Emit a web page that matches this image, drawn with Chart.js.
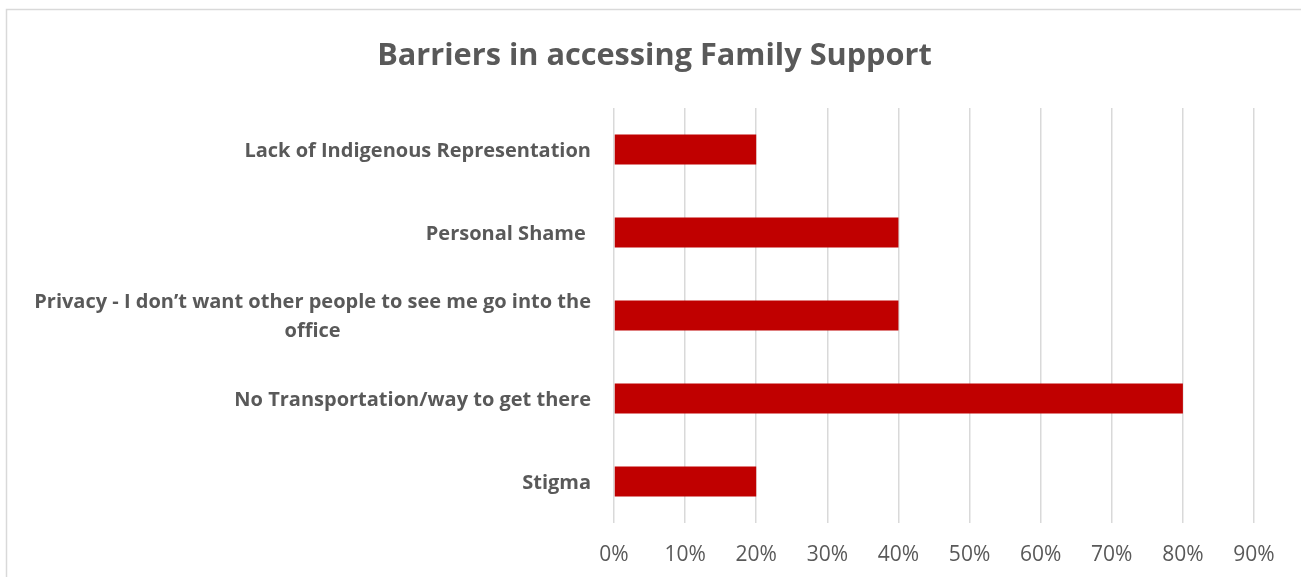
<!DOCTYPE html>
<html>
<head>
<meta charset="utf-8">
<script src="https://cdn.jsdelivr.net/npm/chart.js@4.4.1/dist/chart.umd.min.js"></script>
<style>
  html, body { margin: 0; padding: 0; background: #fff; }
  #wrap { position: relative; width: 1301px; height: 577px; }
  canvas { display: block; }
</style>
</head>
<body>
<div id="wrap"><canvas id="chart" width="1301" height="577"></canvas></div>
<script>
// Survey responses: share of respondents naming each barrier
const categories = [
  'Lack of Indigenous Representation',
  'Personal Shame ',
  ['Privacy - I don\u2019t want other people to see me go into the', 'office'],
  'No Transportation/way to get there',
  'Stigma'
];
const shares = [20, 40, 40, 80, 20];
const tickValues = [0, 10, 20, 30, 40, 50, 60, 70, 80, 90];
const tickSuffix = '%';
const chartTitle = 'Barriers in accessing Family Support';

const textGrey = '#595959';
const labelFont = 'bold 20px "Open Sans"';
const titleFont = 'bold 30.7px "Open Sans"';

// Frame around the whole chart and the centred title
const framePlugin = {
  id: 'frame',
  beforeDraw(chart) {
    const ctx = chart.ctx;
    ctx.save();
    ctx.strokeStyle = '#d9d9d9';
    ctx.lineWidth = 1.5;
    ctx.strokeRect(6.5, 9.5, 1400, 700);
    ctx.font = titleFont;
    ctx.fillStyle = textGrey;
    ctx.textAlign = 'center';
    ctx.textBaseline = 'middle';
    ctx.fillText(chartTitle, 654.5, 56.5);
    ctx.restore();
  }
};

// Category labels: block right-aligned to the axis, lines centred within the block
const categoryLabelPlugin = {
  id: 'categoryLabels',
  afterDraw(chart) {
    const ctx = chart.ctx;
    const yScale = chart.scales.y;
    const rightEdge = chart.chartArea.left - 23;
    const lineHeight = 29;
    ctx.save();
    ctx.font = labelFont;
    ctx.fillStyle = textGrey;
    ctx.textAlign = 'center';
    ctx.textBaseline = 'middle';
    categories.forEach((cat, i) => {
      const lines = Array.isArray(cat) ? cat : [cat];
      const w = Math.max(...lines.map(l => ctx.measureText(l).width));
      const cx = rightEdge - w / 2;
      const cy = yScale.getPixelForTick(i) + 1.5;
      const y0 = cy - (lines.length - 1) * lineHeight / 2;
      lines.forEach((l, k) => ctx.fillText(l, cx, y0 + k * lineHeight));
    });
    ctx.restore();
  }
};

new Chart(document.getElementById('chart'), {
  type: 'bar',
  data: {
    labels: categories,
    datasets: [{
      data: shares,
      backgroundColor: '#C00000',
      borderWidth: 0,
      categoryPercentage: 1,
      barPercentage: 0.36
    }]
  },
  options: {
    indexAxis: 'y',
    responsive: false,
    animation: false,
    devicePixelRatio: 1,
    layout: { padding: { left: 10, right: 47, top: 108, bottom: 0 } },
    plugins: {
      legend: { display: false },
      tooltip: { enabled: false },
      title: { display: false }
    },
    scales: {
      x: {
        min: 0,
        max: 90,
        afterBuildTicks(scale) {
          scale.ticks = tickValues.map(v => ({ value: v }));
        },
        afterFit(scale) { scale.height = 54; },
        grid: { color: '#d9d9d9', lineWidth: 1.5, drawTicks: false },
        border: { display: false },
        ticks: {
          color: textGrey,
          font: { family: 'Open Sans', size: 21 },
          padding: 19,
          callback: v => v + tickSuffix
        }
      },
      y: {
        afterFit(scale) { scale.width = 604; },
        grid: { display: false },
        border: { display: false },
        ticks: { display: false }
      }
    }
  },
  plugins: [framePlugin, categoryLabelPlugin]
});
</script>
</body>
</html>
